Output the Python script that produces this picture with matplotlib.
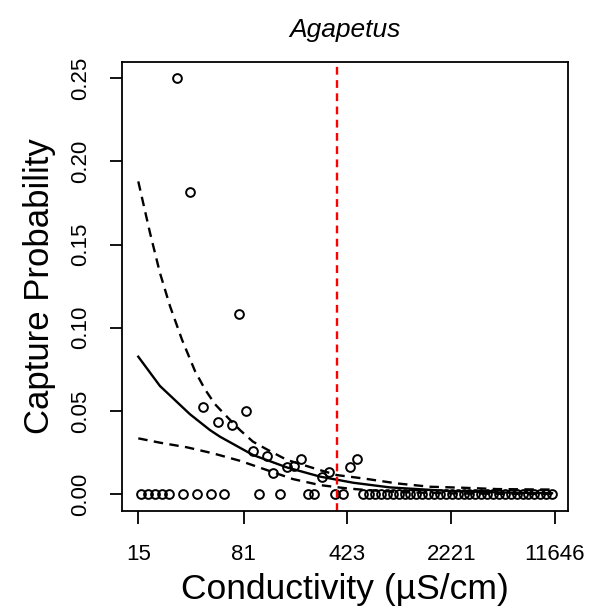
import matplotlib
matplotlib.use("Agg")
import matplotlib.pyplot as plt

plt.rcParams['font.family'] = ['Liberation Sans', 'DejaVu Sans']

# observed capture proportions (conductivity in uS/cm)
cond_obs = [15.7, 17.5, 19.6, 21.9, 24.5, 30.6, 38.3, 47.9, 59.2, 103.6,
            144.2, 225.5, 248.3, 347.1, 394.5,
            545, 599, 658, 723, 795, 873, 959, 1054, 1158, 1273, 1398,
            1536, 1688, 1855, 2038, 2240, 2461, 2704, 2971, 3265, 3587,
            3942, 4331, 4759, 5229, 5746, 6313, 6937, 7623, 8376, 9203,
            10113, 11112,
            27.7, 34.25, 74.9, 42.5, 83.8, 53.6, 66.7, 93.3, 116.6, 129.6,
            161.3, 180.4, 202.6, 280.7, 317, 439, 490.9]
prob_obs = [0.0] * 48 + [0.25, 0.1818, 0.108, 0.0525, 0.0499, 0.0431, 0.0415,
                         0.0259, 0.0229, 0.0124, 0.0164, 0.0168, 0.0209,
                         0.0104, 0.0134, 0.0161, 0.0209]

# fitted curve
cond_fit = [15, 21.2, 34.25, 47.1, 55.3, 93.7, 161.3, 273.2, 464.8, 835,
            2178, 4839, 11104]
prob_fit = [0.0826, 0.0650, 0.0480, 0.0385, 0.0345, 0.0235, 0.0160, 0.0105,
            0.0068, 0.0040, 0.0018, 0.0010, 0.0005]

# confidence band
cond_up = [15, 18.1, 21.2, 24.9, 30.1, 37.1, 43.5, 51.1, 61.8, 76.1, 93.7,
           119.0, 161.3, 273.2, 358.4, 545, 934, 1583, 2681, 4613, 7815, 11104]
prob_up = [0.188, 0.157, 0.133, 0.113, 0.093, 0.074, 0.063, 0.054, 0.0465,
           0.0385, 0.0315, 0.0265, 0.0205, 0.0144, 0.0114, 0.0094, 0.0064,
           0.0044, 0.0038, 0.0030, 0.0028, 0.0027]
cond_lo = [15, 21.2, 32.7, 49.4, 76.1, 117.2, 177.5, 273.2, 420.4, 578.7,
           980, 2178, 4839, 11104]
prob_lo = [0.0335, 0.0309, 0.0281, 0.0245, 0.0200, 0.0144, 0.0090, 0.0054,
           0.0034, 0.0024, 0.0012, 0.0004, 0.00015, 0.00005]

threshold = 356.6
xticks = [15, 81, 423, 2221, 11646]
yticks = [0.00, 0.05, 0.10, 0.15, 0.20, 0.25]

fig = plt.figure(figsize=(5.91, 6.10), dpi=100)
ax = fig.add_axes([0.2059, 0.1628, 0.7552, 0.7361])

ax.plot(cond_obs, prob_obs, linestyle='', marker='o', markersize=6.3,
        markerfacecolor='none', markeredgecolor='black', markeredgewidth=1.4)
ax.plot(cond_fit, prob_fit, color='black', lw=1.7)
ax.plot(cond_up, prob_up, color='black', lw=1.7, dashes=(4, 2.7))
ax.plot(cond_lo, prob_lo, color='black', lw=1.7, dashes=(4, 2.7))
ax.axvline(threshold, color='red', lw=1.7, dashes=(3.3, 2.3))

ax.set_xscale('log')
ax.set_xlim(11.51, 14337)
ax.set_ylim(-0.01, 0.26)
ax.minorticks_off()
ax.set_xticks(xticks)
ax.set_xticklabels([str(v) for v in xticks])
ax.set_yticks(yticks)
ax.set_yticklabels(['%.2f' % v for v in yticks], rotation=90, va='center')
ax.tick_params(axis='both', length=9, width=1.3, labelsize=16)
ax.tick_params(axis='x', pad=15)
ax.tick_params(axis='y', pad=13)

for s in ax.spines.values():
    s.set_linewidth(1.3)

ax.set_title('Agapetus', fontsize=19, style='italic', pad=18)
ax.set_xlabel('Conductivity (µS/cm)', fontsize=25.5, labelpad=6)
ax.set_ylabel('Capture Probability', fontsize=25, labelpad=10)

plt.savefig('out.png', dpi=100)
